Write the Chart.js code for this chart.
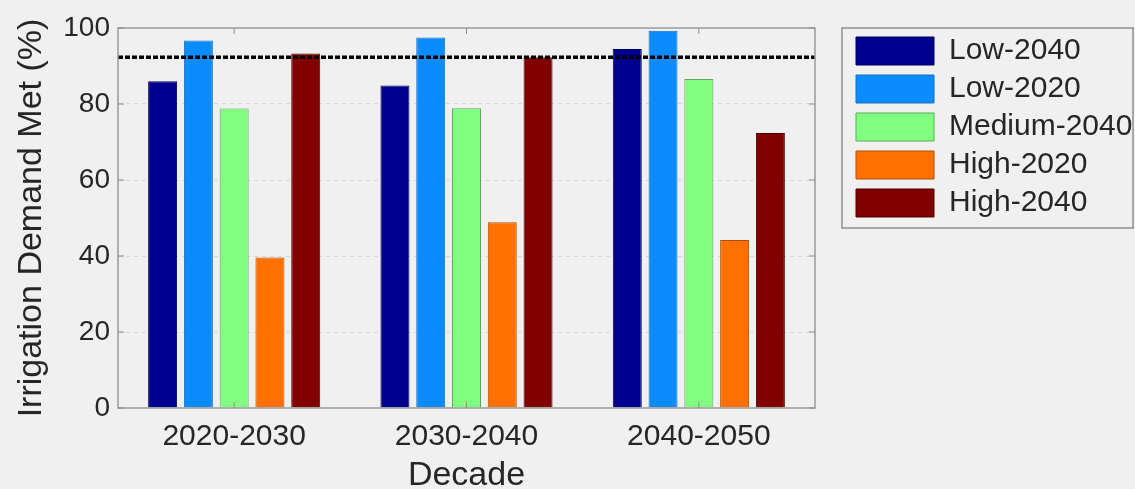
<!DOCTYPE html>
<html>
<head>
<meta charset="utf-8">
<title>Irrigation Demand Met</title>
<script src="https://cdn.jsdelivr.net/npm/chart.js@4"></script>
<style>
  html, body { margin: 0; padding: 0; background: #f0f0f0; }
  #wrap { width: 1135px; height: 489px; }
</style>
</head>
<body>
<div id="wrap"><canvas id="demandChart" width="1135" height="489"></canvas></div>
<script>
// Data
const decades = ['2020-2030', '2030-2040', '2040-2050'];
const scenarioNames = ['Low-2040', 'Low-2020', 'Medium-2040', 'High-2020', 'High-2040'];
const low2040 = [86.0, 84.9, 94.5];
const low2020 = [96.7, 97.5, 99.3];
const medium2040 = [78.8, 78.9, 86.6];
const high2020 = [39.6, 48.9, 44.2];
const high2040 = [93.3, 92.3, 72.4];
const targetLevel = 92.3; // dotted reference line
const yTicks = [0, 20, 40, 60, 80, 100];

// jet-like colours, as in the original figure
const fills = ['#00008f', '#0a8cff', '#80ff80', '#ff7000', '#800000'];
const edges = ['#00005a', '#1a6fbf', '#5aa85a', '#b05000', '#500000'];

const fontFamily = '"Liberation Sans", Arial, sans-serif';
const textColor = '#262626';

const seriesValues = [low2040, low2020, medium2040, high2020, high2040];

const data = {
    labels: decades,
    datasets: scenarioNames.map((name, i) => ({
        label: name,
        data: seriesValues[i],
        backgroundColor: fills[i],
        borderColor: edges[i],
        borderWidth: 1,
        categoryPercentage: 0.77,
        barPercentage: 0.81,
    })),
};

// box round the plot, inward tick marks and the dotted target line
const framePlugin = {
    id: 'framePlugin',
    afterDatasetsDraw(chart) {
        const { ctx, chartArea: a, scales } = chart;
        const y = scales.y;
        const x = scales.x;
        ctx.save();

        // dotted target line
        const ty = y.getPixelForValue(targetLevel);
        ctx.strokeStyle = '#000000';
        ctx.lineWidth = 3.5;
        ctx.setLineDash([5, 2]);
        ctx.beginPath();
        ctx.moveTo(a.left, ty);
        ctx.lineTo(a.right, ty);
        ctx.stroke();

        // frame
        ctx.setLineDash([]);
        ctx.strokeStyle = '#9a9a9a';
        ctx.lineWidth = 1.5;
        ctx.strokeRect(a.left, a.top, a.right - a.left, a.bottom - a.top);

        // small ticks pointing inwards
        ctx.lineWidth = 1;
        ctx.strokeStyle = '#8a8a8a';
        yTicks.forEach(v => {
            const py = y.getPixelForValue(v);
            ctx.beginPath();
            ctx.moveTo(a.left, py); ctx.lineTo(a.left + 6, py);
            ctx.moveTo(a.right, py); ctx.lineTo(a.right - 6, py);
            ctx.stroke();
        });
        decades.forEach((d, i) => {
            const px = x.getPixelForValue(i);
            ctx.beginPath();
            ctx.moveTo(px, a.top); ctx.lineTo(px, a.top + 6);
            ctx.moveTo(px, a.bottom); ctx.lineTo(px, a.bottom - 6);
            ctx.stroke();
        });
        ctx.restore();
    }
};

// the layout caps a side legend at a fraction of the canvas; give it its full width back
const legendWidth = 287;
const legendWidthPlugin = {
    id: 'legendWidthPlugin',
    beforeLayout(chart) {
        const lg = chart.legend;
        if (lg && !lg._widthPatched) {
            const fit = lg.fit;
            lg.fit = function () {
                fit.call(this);
                this.width = legendWidth;
            };
            lg._widthPatched = true;
        }
    }
};

// MATLAB-style border round the legend
const legendBoxPlugin = {
    id: 'legendBoxPlugin',
    afterDraw(chart) {
        const lg = chart.legend;
        if (!lg) return;
        const { ctx } = chart;
        const top = chart.chartArea.top;
        const left = lg.left - 6;
        ctx.save();
        ctx.strokeStyle = '#8f8f8f';
        ctx.lineWidth = 1.5;
        ctx.strokeRect(left, top, chart.width - 2 - left, 200);
        ctx.restore();
    }
};

const options = {
    responsive: false,
    animation: false,
    layout: {
        padding: { top: 28, right: 0, bottom: 0, left: 0 }
    },
    scales: {
        x: {
            grid: { display: false },
            border: { display: false },
            ticks: {
                color: textColor,
                padding: 3,
                font: { size: 30, family: fontFamily }
            },
            title: {
                display: true,
                text: 'Decade',
                color: textColor,
                padding: { top: 0, bottom: 0 },
                font: { size: 34, family: fontFamily, lineHeight: 0.8 }
            },
            afterFit: scale => { scale.height = 81; }
        },
        y: {
            min: 0,
            max: 100,
            afterBuildTicks: scale => {
                scale.ticks = yTicks.map(v => ({ value: v }));
            },
            grid: {
                drawTicks: false,
                color: ctx => (ctx.tick && (ctx.tick.value === 0 || ctx.tick.value === 100)) ? 'rgba(0,0,0,0)' : '#d6d6d6',
                lineWidth: 1
            },
            border: { display: false, dash: [4, 4] },
            ticks: {
                color: textColor,
                padding: 8,
                font: { size: 28, family: fontFamily }
            },
            title: {
                display: true,
                text: 'Irrigation Demand Met (%)',
                color: textColor,
                padding: { top: 11, bottom: 0 },
                font: { size: 34, family: fontFamily }
            },
            afterFit: scale => { scale.width = 118; }
        },
        // empty axis that only keeps a gap between plot and legend
        gap: {
            type: 'linear',
            position: 'right',
            grid: { display: false },
            border: { display: false },
            ticks: { display: false },
            afterFit: scale => { scale.width = 33; }
        }
    },
    plugins: {
        legend: {
            position: 'right',
            align: 'start',
            fullSize: false,
            labels: {
                boxWidth: 78,
                boxHeight: 28,
                padding: 8,
                color: textColor,
                font: { size: 30, family: fontFamily }
            }
        },
        tooltip: { enabled: false }
    }
};

document.addEventListener('DOMContentLoaded', function () {
    const ctx = document.getElementById('demandChart').getContext('2d');
    new Chart(ctx, {
        type: 'bar',
        data: data,
        options: options,
        plugins: [legendWidthPlugin, framePlugin, legendBoxPlugin]
    });
});
</script>
</body>
</html>
